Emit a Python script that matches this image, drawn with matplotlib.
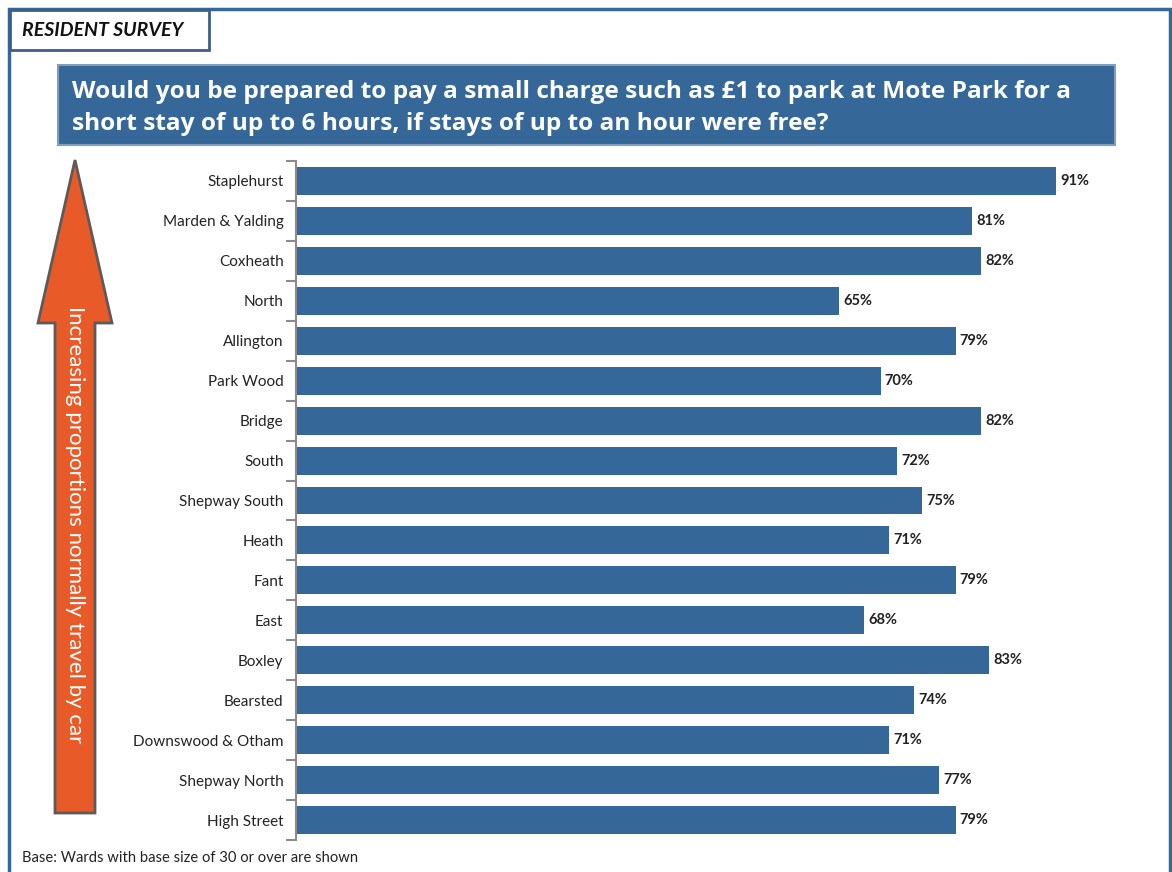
import matplotlib
matplotlib.use("Agg")
import matplotlib.pyplot as plt
from matplotlib.patches import Rectangle, Polygon
import numpy as np

wards = ['Staplehurst', 'Marden & Yalding', 'Coxheath', 'North', 'Allington',
         'Park Wood', 'Bridge', 'South', 'Shepway South', 'Heath', 'Fant',
         'East', 'Boxley', 'Bearsted', 'Downswood & Otham', 'Shepway North',
         'High Street']
pct = [91, 81, 82, 65, 79, 70, 82, 72, 75, 71, 79, 68, 83, 74, 71, 77, 79]

title = ('Would you be prepared to pay a small charge such as £1 to park at Mote Park for a\n'
         'short stay of up to 6 hours, if stays of up to an hour were free?')
arrow_text = 'Increasing proportions normally travel by car'
footer = 'Base: Wards with base size of 30 or over are shown'

W, H = 1172, 872
blue = '#356799'
orange = '#E85A28'

plt.rcParams['font.family'] = ['Lato', 'DejaVu Sans']

fig = plt.figure(figsize=(W / 100, H / 100), dpi=100)


def fx(px):
    return px / W


def fy(py):
    return 1 - py / H


# outer frame
fig.add_artist(Rectangle((fx(9), fy(900)), fx(1170) - fx(9), fy(9) - fy(900),
                         transform=fig.transFigure, fill=False,
                         edgecolor=blue, lw=2.5))

# resident survey tag
fig.add_artist(Rectangle((fx(10), fy(50)), fx(209) - fx(10), fy(10) - fy(50),
                         transform=fig.transFigure, facecolor='white',
                         edgecolor='#3c5f8a', lw=2))
fig.text(fx(22), fy(30), 'RESIDENT SURVEY', fontsize=14, fontweight='bold',
         fontstyle='italic', va='center', ha='left', color='#111111')

# title box
fig.add_artist(Rectangle((fx(58), fy(145)), fx(1115) - fx(58), fy(65) - fy(145),
                         transform=fig.transFigure, facecolor=blue,
                         edgecolor='#7f9fc0', lw=1.5))
fig.text(fx(72), fy(108), title, fontsize=17.6, fontweight='bold', color='white',
         va='center', ha='left', linespacing=1.5, family=['Open Sans', 'DejaVu Sans'])

# arrow
arrow_pts = [(75, 160), (112, 323), (95, 323), (95, 813), (55, 813),
             (55, 323), (38, 323)]
fig.add_artist(Polygon([(fx(x), fy(y)) for x, y in arrow_pts], closed=True,
                       transform=fig.transFigure, facecolor=orange,
                       edgecolor='#5e5a58', lw=2, joinstyle='miter'))
fig.text(fx(75), fy(525), arrow_text, rotation=-90, color='white', fontsize=16,
         ha='center', va='center')

# bar chart
ax = fig.add_axes([fx(296), fy(840), fx(1131) - fx(296), fy(161) - fy(840)])
y = np.arange(len(wards))
ax.barh(y, pct, height=0.7, color=blue)
ax.set_ylim(len(wards) - 0.5, -0.5)
ax.set_xlim(0, 100)
ax.set_yticks(y)
ax.set_yticklabels(wards, fontsize=11, color='#222222')
ax.set_yticks(np.arange(len(wards) + 1) - 0.5, minor=True)
ax.tick_params(axis='y', which='major', length=0, pad=9)
ax.tick_params(axis='y', which='minor', length=7, color='#8c8c8c', width=1.5)
ax.set_xticks([])
for s in ['top', 'right', 'bottom']:
    ax.spines[s].set_visible(False)
ax.spines['left'].set_color('#8c8c8c')
ax.spines['left'].set_linewidth(1.5)

for yi, v in zip(y, pct):
    ax.text(v + 0.5, yi, f'{v}%', va='center', ha='left', fontsize=10.5,
            fontweight='bold', color='#222222')

fig.text(fx(22), fy(858), footer, fontsize=10.6, color='#222222',
         va='center', ha='left')

fig.savefig('out.png', dpi=100)
